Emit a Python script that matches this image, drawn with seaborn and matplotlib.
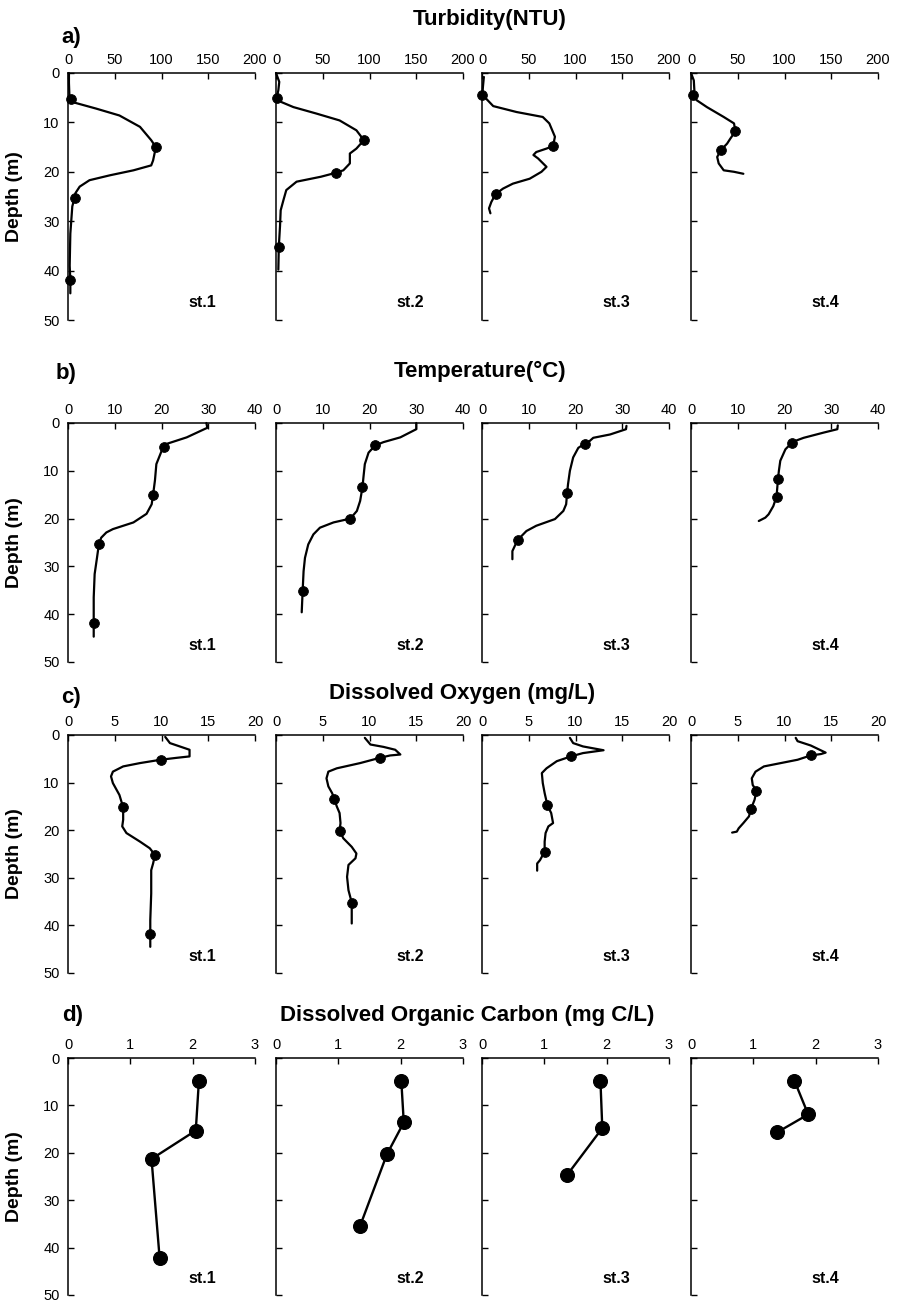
import matplotlib
matplotlib.use('Agg')
import matplotlib.pyplot as plt
import seaborn as sns

# ---------------- DATA ----------------
stations = ["st.1", "st.2", "st.3", "st.4"]
depth_ticks = [0, 10, 20, 30, 40, 50]

# a) Turbidity (NTU)
turb_ticks = [0, 50, 100, 150, 200]
turb_st1_depth = [0, 2, 4.5, 5.2, 6.0, 7.2, 8.6, 10.9, 13.6, 15.0, 17.7, 18.7, 19.7, 20.7, 21.7, 23.0, 24.3, 25.3, 27.0, 32.5, 39.0, 41.9, 44.6]
turb_st1_value = [1, 1, 1.5, 3, 7, 30, 55, 77, 89, 94, 91, 89, 70, 45, 23, 12.5, 8, 7, 4.6, 2.5, 1.8, 2.5, 2.5]
turb_st1_mk_depth = [5.2, 15.0, 25.3, 41.9]
turb_st1_mk_value = [3, 94, 7, 2.5]
turb_st2_depth = [0, 1.8, 3.5, 5.0, 5.9, 6.9, 8.2, 9.6, 11.6, 13.6, 15.3, 16.3, 18.3, 19.7, 20.2, 21.0, 22.0, 23.7, 25.7, 27.8, 31.0, 35.2, 39.8]
turb_st2_value = [0, 3.5, 2.5, 0.7, 6, 18.6, 43, 68, 86, 94, 86, 79, 79, 72, 64, 48, 22, 11, 8, 5, 4.3, 3, 2.5]
turb_st2_mk_depth = [5.0, 13.6, 20.2, 35.2]
turb_st2_mk_value = [0.7, 94, 64, 3]
turb_st3_depth = [0.8, 2.8, 4.4, 6.7, 7.9, 8.9, 10.2, 12.9, 14.8, 15.3, 16.0, 16.6, 17.3, 19.0, 20.0, 21.4, 22.4, 23.4, 24.5, 26.1, 27.4, 28.4]
turb_st3_value = [2, 1, 0.4, 12, 37, 65, 72, 78, 76, 69, 58, 55, 60, 69, 63.6, 51, 33, 22.5, 14.6, 10, 7.5, 9]
turb_st3_mk_depth = [4.4, 14.8, 24.5]
turb_st3_mk_value = [0.4, 76, 14.6]
turb_st4_depth = [0, 1.5, 3.5, 4.4, 5.5, 6.9, 8.9, 10.2, 11.8, 13.3, 14.3, 15.6, 17.0, 18.3, 19.7, 20.0, 20.4]
turb_st4_value = [0, 3, 3.6, 2, 6, 17, 35, 46, 47.5, 42, 38.6, 32, 28, 29.6, 35, 46, 56]
turb_st4_mk_depth = [4.4, 11.8, 15.6]
turb_st4_mk_value = [2, 47.5, 32]

# b) Temperature (°C)
temp_ticks = [0, 10, 20, 30, 40]
temp_st1_depth = [0, 1.0, 3.0, 4.4, 5.0, 5.9, 8.6, 12.0, 15.0, 17.0, 19.0, 20.8, 22.2, 22.9, 24.0, 25.4, 28.2, 31.6, 36.5, 41.9, 44.7]
temp_st1_value = [29.6, 29.8, 25.4, 21, 20.5, 20, 18.9, 18.6, 18.2, 17.9, 16.8, 14, 9.6, 8.2, 7.1, 6.6, 6.2, 5.7, 5.5, 5.5, 5.5]
temp_st1_mk_depth = [5.0, 15.0, 25.4, 41.9]
temp_st1_mk_value = [20.5, 18.2, 6.6, 5.5]
temp_st2_depth = [0, 1.3, 3.0, 4.0, 4.7, 6.2, 8.6, 11.4, 13.4, 16.3, 18.4, 20.0, 20.8, 21.9, 23.3, 25.4, 28.2, 31.0, 35.1, 39.6]
temp_st2_value = [30, 30, 26.6, 23, 21.2, 19.8, 19, 18.7, 18.5, 18, 17.3, 15.9, 12.3, 9.4, 8, 6.9, 6.2, 5.9, 5.7, 5.5]
temp_st2_mk_depth = [4.7, 13.4, 20.0, 35.1]
temp_st2_mk_value = [21.2, 18.5, 15.9, 5.7]
temp_st3_depth = [0.6, 1.3, 2.4, 3.1, 3.8, 4.3, 5.2, 7.2, 10.0, 12.8, 14.7, 17.0, 18.4, 20.1, 21.5, 22.6, 24.5, 26.8, 28.5]
temp_st3_value = [30.9, 30.8, 27.4, 23.8, 23, 22, 20.6, 19.5, 18.8, 18.4, 18.2, 18, 17.4, 15.6, 11.6, 9.5, 7.6, 6.5, 6.5]
temp_st3_mk_depth = [4.3, 14.7, 24.5]
temp_st3_mk_value = [22, 18.2, 7.6]
temp_st4_depth = [0.5, 1.3, 2.0, 3.1, 3.6, 4.1, 5.5, 7.9, 10.0, 11.8, 14.2, 15.4, 17.4, 19.1, 19.8, 20.5]
temp_st4_value = [31.4, 31.3, 28.4, 24.1, 22.7, 21.6, 20.2, 19.1, 18.8, 18.6, 18.4, 18.3, 17.6, 16.6, 15.9, 14.5]
temp_st4_mk_depth = [4.1, 11.8, 15.4]
temp_st4_mk_value = [21.6, 18.6, 18.3]

# c) Dissolved Oxygen (mg/L)
do_ticks = [0, 5, 10, 15, 20]
do_st1_depth = [0.4, 1.7, 2.5, 3.1, 4.5, 4.8, 5.2, 5.9, 6.6, 7.7, 8.7, 10.1, 12.6, 15.2, 17.8, 19.2, 20.6, 22.4, 23.8, 25.2, 27.0, 28.4, 33.3, 38.9, 41.9, 44.5]
do_st1_value = [10.4, 10.9, 12.1, 13, 13, 11.6, 9.9, 7.7, 5.9, 4.8, 4.6, 4.8, 5.5, 5.9, 5.9, 5.8, 6.25, 7.7, 8.75, 9.3, 9.1, 8.9, 8.9, 8.8, 8.8, 8.8]
do_st1_mk_depth = [5.2, 15.2, 25.2, 41.9]
do_st1_mk_value = [9.9, 5.9, 9.3, 8.8]
do_st2_depth = [0.6, 2.0, 2.5, 3.1, 4.1, 4.3, 4.8, 5.9, 7.0, 7.7, 9.1, 10.8, 12.2, 13.5, 15.0, 16.4, 18.5, 20.1, 21.7, 23.5, 24.9, 25.9, 27.3, 29.8, 32.6, 35.2, 39.6]
do_st2_value = [9.5, 10.1, 11.5, 12.75, 13.3, 12.2, 11.1, 9, 6.5, 5.6, 5.4, 5.6, 6, 6.25, 6.5, 6.8, 6.9, 6.8, 7.2, 8.1, 8.6, 8.5, 7.75, 7.6, 7.75, 8.1, 8.1]
do_st2_mk_depth = [4.8, 13.5, 20.1, 35.2]
do_st2_mk_value = [11.1, 6.25, 6.8, 8.1]
do_st3_depth = [0.6, 1.7, 2.4, 2.8, 3.2, 3.8, 4.5, 5.5, 7.0, 8.0, 10.1, 12.2, 14.8, 16.4, 18.5, 19.2, 20.6, 22.4, 24.5, 26.3, 27.0, 28.5]
do_st3_value = [9.4, 9.75, 10.8, 11.9, 13, 10.8, 9.5, 8, 6.9, 6.4, 6.5, 6.7, 7, 7.4, 7.6, 7.1, 6.8, 6.7, 6.7, 6.2, 5.9, 5.9]
do_st3_mk_depth = [4.5, 14.8, 24.5]
do_st3_mk_value = [9.5, 7, 6.7]
do_st4_depth = [0.6, 1.3, 2.2, 3.7, 4.0, 4.3, 5.2, 5.9, 6.6, 7.7, 9.1, 10.5, 11.7, 13.6, 15.6, 17.1, 18.5, 19.6, 20.3, 20.5]
do_st4_value = [11.2, 11.4, 12.8, 14.4, 13.9, 12.8, 11.4, 9.6, 7.8, 6.9, 6.5, 6.6, 7, 6.8, 6.4, 6.2, 5.6, 5.1, 4.9, 4.4]
do_st4_mk_depth = [4.3, 11.7, 15.6]
do_st4_mk_value = [12.8, 7, 6.4]

# d) Dissolved Organic Carbon (mg C/L)
doc_ticks = [0, 1, 2, 3]
doc_st1_depth = [4.8, 15.3, 21.3, 42.2]
doc_st1_value = [2.1, 2.05, 1.34, 1.47]
doc_st2_depth = [4.8, 13.6, 20.3, 35.4]
doc_st2_value = [2.01, 2.05, 1.78, 1.35]
doc_st3_depth = [4.8, 14.8, 24.6]
doc_st3_value = [1.9, 1.93, 1.37]
doc_st4_depth = [4.8, 11.9, 15.7]
doc_st4_value = [1.66, 1.88, 1.38]

row_titles = ["Turbidity(NTU)", "Temperature(\u00b0C)", "Dissolved Oxygen (mg/L)",
              "Dissolved Organic Carbon (mg C/L)"]
row_letters = ["a)", "b)", "c)", "d)"]

# ---------------- STYLE / LAYOUT ----------------
sns.set_theme(style="ticks")
plt.rcParams['font.family'] = ['Liberation Sans', 'DejaVu Sans']
plt.rcParams['text.color'] = 'black'
plt.rcParams['axes.labelcolor'] = 'black'
plt.rcParams['xtick.color'] = 'black'
plt.rcParams['ytick.color'] = 'black'

W, H = 897, 1304
fig = plt.figure(figsize=(W / 100, H / 100), dpi=100)

col_left = [68, 276, 482, 691]
col_w = 187
row_span = [(73, 320), (423, 662), (735, 973), (1058, 1295)]
title_y = [20, 371, 693, 1015]
title_x = [490, 480, 462, 467]
letter_x = [71, 66, 71, 73]
letter_y = [38, 373, 697, 1015]

profiles = [
    [(turb_st1_depth, turb_st1_value, turb_st1_mk_depth, turb_st1_mk_value),
     (turb_st2_depth, turb_st2_value, turb_st2_mk_depth, turb_st2_mk_value),
     (turb_st3_depth, turb_st3_value, turb_st3_mk_depth, turb_st3_mk_value),
     (turb_st4_depth, turb_st4_value, turb_st4_mk_depth, turb_st4_mk_value)],
    [(temp_st1_depth, temp_st1_value, temp_st1_mk_depth, temp_st1_mk_value),
     (temp_st2_depth, temp_st2_value, temp_st2_mk_depth, temp_st2_mk_value),
     (temp_st3_depth, temp_st3_value, temp_st3_mk_depth, temp_st3_mk_value),
     (temp_st4_depth, temp_st4_value, temp_st4_mk_depth, temp_st4_mk_value)],
    [(do_st1_depth, do_st1_value, do_st1_mk_depth, do_st1_mk_value),
     (do_st2_depth, do_st2_value, do_st2_mk_depth, do_st2_mk_value),
     (do_st3_depth, do_st3_value, do_st3_mk_depth, do_st3_mk_value),
     (do_st4_depth, do_st4_value, do_st4_mk_depth, do_st4_mk_value)],
    [(doc_st1_depth, doc_st1_value, doc_st1_depth, doc_st1_value),
     (doc_st2_depth, doc_st2_value, doc_st2_depth, doc_st2_value),
     (doc_st3_depth, doc_st3_value, doc_st3_depth, doc_st3_value),
     (doc_st4_depth, doc_st4_value, doc_st4_depth, doc_st4_value)],
]
xticks_rows = [turb_ticks, temp_ticks, do_ticks, doc_ticks]
marker_size = [50, 50, 50, 100]
line_w = [1.6, 1.6, 1.6, 1.7]

for r in range(4):
    top, bot = row_span[r]
    for c in range(4):
        ax = fig.add_axes([col_left[c] / W, 1 - bot / H, col_w / W, (bot - top) / H])
        d, v, md, mv = profiles[r][c]
        sns.lineplot(x=v, y=d, sort=False, estimator=None, color='black',
                     lw=line_w[r], ax=ax, clip_on=False)
        sns.scatterplot(x=mv, y=md, color='black', edgecolor='black', s=marker_size[r],
                        ax=ax, zorder=3, clip_on=False, legend=False)
        xt = xticks_rows[r]
        ax.set_xlim(xt[0], xt[-1])
        ax.set_ylim(50, 0)
        ax.set_xticks(xt)
        ax.set_yticks(depth_ticks)
        ax.xaxis.tick_top()
        ax.xaxis.set_label_position('top')
        for s in ['right', 'bottom']:
            ax.spines[s].set_visible(False)
        for s in ['left', 'top']:
            ax.spines[s].set_linewidth(1.1)
            ax.spines[s].set_color('black')
        ax.tick_params(axis='both', direction='in', length=4, width=1, colors='black',
                       labelsize=10.5, labelcolor='black')
        ax.tick_params(axis='x', pad=4, top=True, bottom=False, labeltop=True, labelbottom=False)
        ax.tick_params(axis='y', pad=6, left=True, labelleft=(c == 0))
        ax.set_xlabel('')
        if c == 0:
            ax.set_ylabel('Depth (m)', fontsize=14, fontweight='bold', color='black')
            ax.yaxis.set_label_coords(-0.24, 0.5)
        else:
            ax.set_ylabel('')
        ax.text(0.72, 0.07, stations[c], transform=ax.transAxes, ha='center', va='center',
                fontsize=11.5, fontweight='bold', color='black')
        ax.set_facecolor('white')

    fig.text(title_x[r] / W, 1 - title_y[r] / H, row_titles[r], ha='center', va='center',
             fontsize=16, fontweight='bold', color='black')
    fig.text(letter_x[r] / W, 1 - letter_y[r] / H, row_letters[r], ha='center', va='center',
             fontsize=16, fontweight='bold', color='black')

fig.savefig('out.png', dpi=100, facecolor='white')
